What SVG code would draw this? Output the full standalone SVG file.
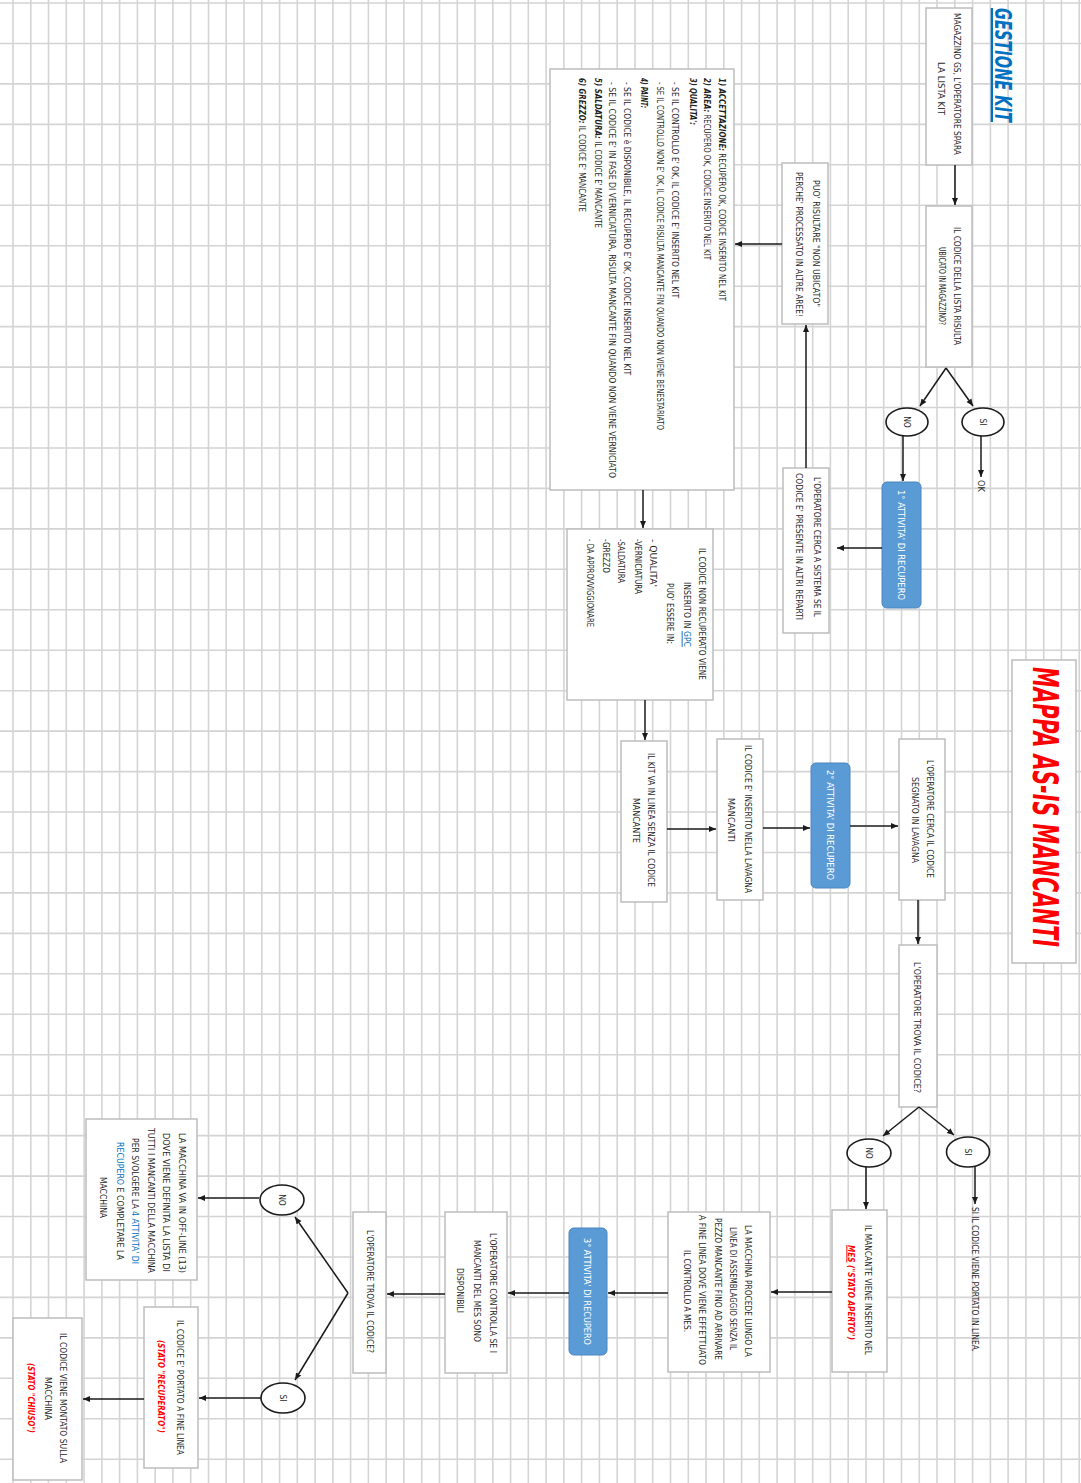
<svg xmlns="http://www.w3.org/2000/svg" width="1081" height="1483" viewBox="0 0 1081 1483">
<style>
.box{fill:#fff;stroke:#bdbdbd;stroke-width:1.5}
.blue{fill:#5b9bd5;stroke:#4a86be;stroke-width:1}
.ell{fill:#fff;stroke:#1a1a1a;stroke-width:1.6}
.ln{stroke:#1a1a1a;stroke-width:1.5;fill:none;marker-end:url(#ah)}
text{font-family:"Liberation Sans Narrow","DejaVu Sans Condensed","Liberation Sans",sans-serif;font-size:9.5px;fill:#1f1f1f}
.s{font-size:8.5px}
.w{fill:#fff}
.b{font-weight:bold;font-style:italic}
.r{fill:#ff0000}
.bl{fill:#0070c0}
.u{text-decoration:underline}
</style>
<defs>
<marker id="ah" markerWidth="8" markerHeight="8" refX="7" refY="4" orient="auto" markerUnits="userSpaceOnUse"><path d="M0,1 L7,4 L0,7 z" fill="#1a1a1a"/></marker>
</defs>
<rect width="1081" height="1483" fill="#fff"/>
<path id="grid" stroke="#d4d4d4" stroke-width="1.6" fill="none" d="M13 0V1483M30.8 0V1483M48.5 0V1483M66.3 0V1483M84.1 0V1483M101.9 0V1483M119.6 0V1483M137.4 0V1483M155.2 0V1483M172.9 0V1483M190.7 0V1483M208.5 0V1483M226.2 0V1483M244 0V1483M261.8 0V1483M279.6 0V1483M297.3 0V1483M315.1 0V1483M332.9 0V1483M350.6 0V1483M368.4 0V1483M386.2 0V1483M403.9 0V1483M421.7 0V1483M439.5 0V1483M457.3 0V1483M475 0V1483M492.8 0V1483M510.6 0V1483M528.3 0V1483M546.1 0V1483M563.9 0V1483M581.6 0V1483M599.4 0V1483M617.2 0V1483M635 0V1483M652.7 0V1483M670.5 0V1483M688.3 0V1483M706 0V1483M723.8 0V1483M741.6 0V1483M759.3 0V1483M777.1 0V1483M794.9 0V1483M812.7 0V1483M830.4 0V1483M848.2 0V1483M866 0V1483M883.7 0V1483M901.5 0V1483M919.3 0V1483M937 0V1483M954.8 0V1483M972.6 0V1483M990.4 0V1483M1008.1 0V1483M1025.9 0V1483M1043.7 0V1483M1061.4 0V1483M1079.2 0V1483M0 3H1081M0 43.5H1081M0 83.9H1081M0 124.4H1081M0 164.8H1081M0 205.3H1081M0 245.7H1081M0 286.2H1081M0 326.6H1081M0 367.1H1081M0 407.5H1081M0 448H1081M0 488.4H1081M0 528.9H1081M0 569.3H1081M0 609.8H1081M0 650.2H1081M0 690.7H1081M0 731.1H1081M0 771.6H1081M0 812H1081M0 852.5H1081M0 892.9H1081M0 933.4H1081M0 973.8H1081M0 1014.3H1081M0 1054.7H1081M0 1095.2H1081M0 1135.6H1081M0 1176.1H1081M0 1216.5H1081M0 1257H1081M0 1297.4H1081M0 1337.9H1081M0 1378.3H1081M0 1418.8H1081M0 1459.2H1081"/>
<g transform="translate(1081 0) rotate(90)">
<g id="title-gestione">
<text x="8" y="86" class="b bl u" style="font-size:23px" textLength="114" lengthAdjust="spacingAndGlyphs">GESTIONE KIT</text>
</g>
<g id="title-mappa">
<rect class="box" x="660" y="5" width="303" height="64"/>
<text x="667" y="48" class="b r" style="font-size:35px" textLength="280" lengthAdjust="spacingAndGlyphs">MAPPA AS-IS MANCANTI</text>
</g>
<g id="n-magazzino">
<rect class="box" x="8" y="109" width="157" height="46"/>
<text x="13" y="127.4" textLength="142" lengthAdjust="spacingAndGlyphs">MAGAZZINO GS, L'OPERATORE SPARA</text>
<text x="62" y="143.4" textLength="53" lengthAdjust="spacingAndGlyphs">LA LISTA KIT</text>
</g>
<g id="n-ubicato">
<rect class="box" x="206" y="109" width="161" height="46"/>
<text x="227" y="127.4" textLength="118" lengthAdjust="spacingAndGlyphs">IL CODICE DELLA LISTA RISULTA</text>
<text x="247" y="142.4" textLength="78" lengthAdjust="spacingAndGlyphs">UBICATO IN MAGAZZINO?</text>
</g>
<g id="n-si1">
<ellipse class="ell" cx="422" cy="98" rx="14" ry="21"/>
<text x="422" y="101" class="s" text-anchor="middle">SI</text>
</g>
<g id="n-no1">
<ellipse class="ell" cx="422" cy="174" rx="14" ry="21"/>
<text x="422" y="177" class="s" text-anchor="middle">NO</text>
</g>
<g id="n-ok">
<text x="480" y="103.2" class="s" textLength="12" lengthAdjust="spacingAndGlyphs">OK</text>
</g>
<g id="n-att1">
<rect class="blue" x="482" y="160" width="126" height="39" rx="5"/>
<text x="490" y="183.4" class="w" textLength="110" lengthAdjust="spacingAndGlyphs">1° ATTIVITA' DI RECUPERO</text>
</g>
<g id="n-nonubicato">
<rect class="box" x="163" y="253" width="161" height="46"/>
<text x="180" y="268.2" class="s" textLength="127" lengthAdjust="spacingAndGlyphs">PUO' RISULTARE "NON UBICATO"</text>
<text x="172" y="284.7" class="s" textLength="145" lengthAdjust="spacingAndGlyphs">PERCHE' PROCESSATO IN ALTRE AREE!</text>
</g>
<g id="n-sistema">
<rect class="box" x="468" y="252" width="165" height="46"/>
<text x="477" y="267.4" class="s" textLength="140" lengthAdjust="spacingAndGlyphs">L'OPERATORE CERCA A SISTEMA SE IL</text>
<text x="473" y="284.9" class="s" textLength="147" lengthAdjust="spacingAndGlyphs">CODICE E' PRESENTE IN ALTRI REPARTI</text>
</g>
<g id="n-aree">
<rect class="box" x="69" y="347" width="421" height="184"/>
<text x="78" y="362.4" textLength="223" lengthAdjust="spacingAndGlyphs"><tspan class="b">1) ACCETTAZIONE:</tspan> RECUPERO OK, CODICE INSERITO NEL KIT</text>
<text x="78" y="376.7" textLength="182" lengthAdjust="spacingAndGlyphs"><tspan class="b">2) AREA:</tspan> RECUPERO OK, CODICE INSERITO NEL KIT</text>
<text x="78" y="390.7" class="b" textLength="47" lengthAdjust="spacingAndGlyphs">3) QUALITA':</text>
<text x="82" y="408.7" textLength="216" lengthAdjust="spacingAndGlyphs">- SE IL CONTROLLO E' OK, IL CODICE E' INSERITO NEL KIT</text>
<text x="82" y="424.1" textLength="348" lengthAdjust="spacingAndGlyphs">- SE IL CONTROLLO NON E' OK, IL CODICE RISULTA MANCANTE FIN QUANDO NON VIENE BENESTARIATO</text>
<text x="78" y="440.1" class="b" textLength="30" lengthAdjust="spacingAndGlyphs">4) PAINT:</text>
<text x="82" y="457.4" textLength="293" lengthAdjust="spacingAndGlyphs">- SE IL CODICE è DISPONIBILE, IL RECUPERO E' OK, CODICE INSERITO NEL KIT</text>
<text x="82" y="472.1" textLength="396" lengthAdjust="spacingAndGlyphs">- SE IL CODICE E' IN FASE DI VERNICIATURA, RISULTA MANCANTE FIN QUANDO NON VIENE VERNICIATO</text>
<text x="78" y="486.4" textLength="150" lengthAdjust="spacingAndGlyphs"><tspan class="b">5) SALDATURA:</tspan> IL CODICE E' MANCANTE</text>
<text x="78" y="501.7" textLength="134" lengthAdjust="spacingAndGlyphs"><tspan class="b">6) GREZZO:</tspan> IL CODICE E' MANCANTE</text>
</g>
<g id="n-gpc">
<rect class="box" x="529" y="368" width="171" height="146"/>
<text x="548" y="382.4" textLength="132" lengthAdjust="spacingAndGlyphs">IL CODICE NON RECUPERATO VIENE</text>
<text x="582" y="397.4" textLength="65" lengthAdjust="spacingAndGlyphs">INSERITO IN <tspan class="bl u">GPC</tspan></text>
<text x="583" y="414.4" textLength="61" lengthAdjust="spacingAndGlyphs">PUO' ESSERE IN:</text>
<text x="539" y="431.2" textLength="48" lengthAdjust="spacingAndGlyphs">- QUALITA'</text>
<text x="539" y="446.2" textLength="55" lengthAdjust="spacingAndGlyphs">-VERNICIATURA</text>
<text x="539" y="462.7" textLength="44" lengthAdjust="spacingAndGlyphs">-SALDATURA</text>
<text x="539" y="478.4" textLength="34" lengthAdjust="spacingAndGlyphs">-GREZZO</text>
<text x="539" y="494.4" textLength="88" lengthAdjust="spacingAndGlyphs">- DA APPROVVIGGIONARE</text>
</g>
<g id="n-kitlinea">
<rect class="box" x="741" y="414" width="161" height="46"/>
<text x="753" y="432.7" textLength="134" lengthAdjust="spacingAndGlyphs">IL KIT VA IN LINEA SENZA IL CODICE</text>
<text x="798" y="447.7" textLength="45" lengthAdjust="spacingAndGlyphs">MANCANTE</text>
</g>
<g id="n-lavagna">
<rect class="box" x="739" y="318" width="161" height="46"/>
<text x="745" y="336.1" textLength="148" lengthAdjust="spacingAndGlyphs">IL CODICE E' INSERITO NELLA LAVAGNA</text>
<text x="798" y="352.7" textLength="44" lengthAdjust="spacingAndGlyphs">MANCANTI</text>
</g>
<g id="n-att2">
<rect class="blue" x="763" y="231" width="125" height="39" rx="5"/>
<text x="770" y="254.4" class="w" textLength="110" lengthAdjust="spacingAndGlyphs">2° ATTIVITA' DI RECUPERO</text>
</g>
<g id="n-segnato">
<rect class="box" x="739" y="136" width="161" height="46"/>
<text x="760" y="154.4" textLength="118" lengthAdjust="spacingAndGlyphs">L'OPERATORE CERCA IL CODICE</text>
<text x="777" y="169.4" textLength="86" lengthAdjust="spacingAndGlyphs">SEGNATO IN LAVAGNA</text>
</g>
<g id="n-trova1">
<rect class="box" x="945" y="144" width="162" height="38"/>
<text x="962" y="166.7" textLength="131" lengthAdjust="spacingAndGlyphs">L'OPERATORE TROVA IL CODICE?</text>
</g>
<g id="n-si2">
<ellipse class="ell" cx="1152" cy="113" rx="15" ry="21.5"/>
<text x="1152" y="116" class="s" text-anchor="middle">SI</text>
</g>
<g id="n-no2">
<ellipse class="ell" cx="1153" cy="212" rx="14" ry="22"/>
<text x="1153" y="215" class="s" text-anchor="middle">NO</text>
</g>
<g id="n-portato">
<text x="1207" y="109.1" textLength="145" lengthAdjust="spacingAndGlyphs">SI IL CODICE VIENE PORTATO IN LINEA.</text>
</g>
<g id="n-mes">
<rect class="box" x="1210" y="194" width="162" height="55"/>
<text x="1225" y="215.7" textLength="130" lengthAdjust="spacingAndGlyphs">IL MANCANTE VIENE INSERITO NEL</text>
<text x="1245" y="232.7" class="b r" textLength="95" lengthAdjust="spacingAndGlyphs"><tspan class="u">MES</tspan> ("STATO APERTO")</text>
</g>
<g id="n-procede">
<rect class="box" x="1212" y="311" width="160" height="102"/>
<text x="1225" y="335.9" textLength="132" lengthAdjust="spacingAndGlyphs">LA MACCHINA PROCEDE LUNGO LA</text>
<text x="1227" y="351.1" textLength="123" lengthAdjust="spacingAndGlyphs">LINEA DI ASSEMBLAGGIO SENZA IL</text>
<text x="1218" y="366.4" textLength="142" lengthAdjust="spacingAndGlyphs">PEZZO MANCANTE FINO AD ARRIVARE</text>
<text x="1215" y="381.6" textLength="150" lengthAdjust="spacingAndGlyphs">A FINE LINEA DOVE VIENE EFFETTUATO</text>
<text x="1250" y="396.9" textLength="82" lengthAdjust="spacingAndGlyphs">IL CONTROLLO A MES.</text>
</g>
<g id="n-att3">
<rect class="blue" x="1228" y="474" width="127" height="38" rx="5"/>
<text x="1238" y="497.4" class="w" textLength="107" lengthAdjust="spacingAndGlyphs">3° ATTIVITA' DI RECUPERO</text>
</g>
<g id="n-controlla">
<rect class="box" x="1212" y="574" width="161" height="62"/>
<text x="1233" y="590.7" textLength="120" lengthAdjust="spacingAndGlyphs">L'OPERATORE CONTROLLA SE I</text>
<text x="1240" y="607.4" textLength="102" lengthAdjust="spacingAndGlyphs">MANCANTI DEL MES SONO</text>
<text x="1268" y="624.1" textLength="45" lengthAdjust="spacingAndGlyphs">DISPONIBILI</text>
</g>
<g id="n-trova2">
<rect class="box" x="1212" y="695" width="161" height="33"/>
<text x="1230" y="714.4" textLength="123" lengthAdjust="spacingAndGlyphs">L'OPERATORE TROVA IL CODICE?</text>
</g>
<g id="n-no3">
<ellipse class="ell" cx="1200" cy="799" rx="15" ry="22"/>
<text x="1200" y="802" class="s" text-anchor="middle">NO</text>
</g>
<g id="n-si3">
<ellipse class="ell" cx="1398" cy="798" rx="15" ry="22"/>
<text x="1398" y="801" class="s" text-anchor="middle">SI</text>
</g>
<g id="n-offline">
<rect class="box" x="1119" y="884" width="161" height="111"/>
<text x="1133" y="901.7" textLength="140" lengthAdjust="spacingAndGlyphs">LA MACCHINA VA IN OFF-LINE (13)</text>
<text x="1133" y="917.7" textLength="139" lengthAdjust="spacingAndGlyphs">DOVE VIENE DEFINITA LA LISTA DI</text>
<text x="1128" y="932.7" textLength="145" lengthAdjust="spacingAndGlyphs">TUTTI I MANCANTI DELLA MACCHINA</text>
<text x="1138" y="948.7" textLength="126" lengthAdjust="spacingAndGlyphs">PER SVOLGERE LA <tspan class="bl">4 ATTIVITA' DI</tspan></text>
<text x="1142" y="964.4" textLength="118" lengthAdjust="spacingAndGlyphs"><tspan class="bl">RECUPERO</tspan> E COMPLETARE LA</text>
<text x="1177" y="981.1" textLength="41" lengthAdjust="spacingAndGlyphs">MACCHINA</text>
</g>
<g id="n-recuperato">
<rect class="box" x="1307" y="883" width="161" height="54"/>
<text x="1320" y="904.4" textLength="135" lengthAdjust="spacingAndGlyphs">IL CODICE E' PORTATO A FINE LINEA</text>
<text x="1340" y="922.7" class="b r" textLength="93" lengthAdjust="spacingAndGlyphs">(STATO "RECUPERATO")</text>
</g>
<g id="n-chiuso">
<rect class="box" x="1318" y="999" width="162" height="69"/>
<text x="1333" y="1020.7" textLength="130" lengthAdjust="spacingAndGlyphs">IL CODICE VIENE MONTATO SULLA</text>
<text x="1377" y="1036.1" textLength="43" lengthAdjust="spacingAndGlyphs">MACCHINA</text>
<text x="1363" y="1052.7" class="b r" textLength="70" lengthAdjust="spacingAndGlyphs">(STATO "CHIUSO")</text>
</g>
<g id="connectors">
<path class="ln" d="M165 126H205"/>
<path class="ln" d="M368 135L406 161"/>
<path class="ln" d="M368 135L406 108"/>
<path class="ln" d="M436 178H481"/>
<path class="ln" d="M436 100H477"/>
<path class="ln" d="M548 199V244"/>
<path class="ln" d="M468 275H325"/>
<path class="ln" d="M244 299V346"/>
<path class="ln" d="M490 438H528"/>
<path class="ln" d="M700 436H740"/>
<path class="ln" d="M829 414V365"/>
<path class="ln" d="M828 318V271"/>
<path class="ln" d="M826 231V183"/>
<path class="ln" d="M900 163H944"/>
<path class="ln" d="M1107 162L1136 198"/>
<path class="ln" d="M1107 162L1135 127"/>
<path class="ln" d="M1167 215H1209"/>
<path class="ln" d="M1167 106H1204"/>
<path class="ln" d="M1292 249V310"/>
<path class="ln" d="M1293 413V473"/>
<path class="ln" d="M1293 512V573"/>
<path class="ln" d="M1294 636V694"/>
<path class="ln" d="M1293 733L1217 786"/>
<path class="ln" d="M1293 733L1380 786"/>
<path class="ln" d="M1198 822V883"/>
<path class="ln" d="M1398 820V882"/>
<path class="ln" d="M1399 937V998"/>
</g>
</g>
</svg>
